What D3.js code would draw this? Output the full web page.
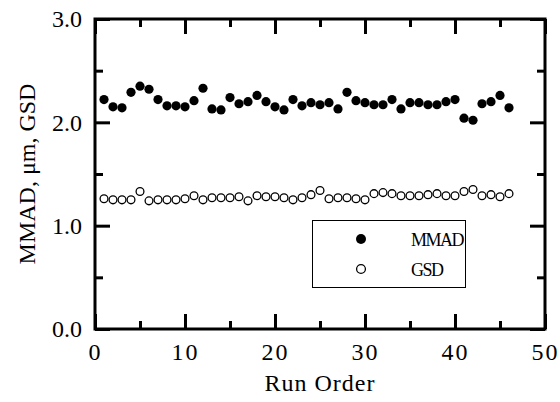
<!DOCTYPE html>
<html>
<head>
<script src="https://d3js.org/d3.v7.min.js"></script>
<style>
  body { margin: 0; background: #fff; }
  svg { display: block; }
  text { font-family: "Liberation Serif", "Times New Roman", serif; fill: #000; }
</style>
</head>
<body>
<script>
// run order 1..46
var runs = d3.range(1, 47);
var mmad = [2.22, 2.15, 2.14, 2.29, 2.35, 2.32, 2.22, 2.16, 2.16, 2.15,
            2.21, 2.33, 2.13, 2.12, 2.24, 2.18, 2.20, 2.26, 2.20, 2.15,
            2.12, 2.22, 2.16, 2.19, 2.17, 2.19, 2.13, 2.29, 2.21, 2.19,
            2.17, 2.17, 2.22, 2.13, 2.19, 2.19, 2.17, 2.17, 2.20, 2.22,
            2.04, 2.02, 2.18, 2.20, 2.26, 2.14];
var gsd = [1.26, 1.25, 1.25, 1.25, 1.33, 1.24, 1.25, 1.25, 1.25, 1.26,
           1.29, 1.25, 1.27, 1.27, 1.27, 1.28, 1.24, 1.29, 1.28, 1.28,
           1.27, 1.25, 1.27, 1.30, 1.34, 1.26, 1.27, 1.27, 1.26, 1.25,
           1.31, 1.32, 1.31, 1.29, 1.29, 1.29, 1.30, 1.31, 1.29, 1.29,
           1.33, 1.35, 1.29, 1.30, 1.28, 1.31];
var xMajor = [0, 10, 20, 30, 40, 50];
var xMinor = [5, 15, 25, 35, 45];
var yMajor = [0, 1, 2, 3];
var yMinor = [0.5, 1.5, 2.5];

var width = 560, height = 402;
// plot box edges (note: "top" is reserved on window)
var pL = 95, pR = 545, pT = 19, pB = 329;

var svg = d3.select("body").append("svg")
    .attr("width", width)
    .attr("height", height);

var x = d3.scaleLinear().domain([0, 50]).range([pL, pR]);
var y = d3.scaleLinear().domain([0, 3]).range([pB, pT]);

// ticks on all four sides, pointing inward
function drawTicks(axisFn, scale, vals, size, tx, ty, labels) {
    var g = svg.append("g")
        .attr("transform", "translate(" + tx + "," + ty + ")")
        .call(axisFn(scale).tickValues(vals).tickSize(size).tickSizeOuter(0)
            .tickFormat(labels ? labels : ""));
    g.select(".domain").remove();
    g.selectAll(".tick line").attr("stroke", "#000").attr("stroke-width", 3);
    return g;
}

var gx = drawTicks(d3.axisBottom, x, xMajor, -15, 0, pB, d3.format("d"));
gx.selectAll("text").attr("font-size", 24).attr("letter-spacing", 2)
    .attr("y", 31).attr("dy", 0);
drawTicks(d3.axisBottom, x, xMinor, -8, 0, pB);
drawTicks(d3.axisTop, x, xMajor, -15, 0, pT);
drawTicks(d3.axisTop, x, xMinor, -8, 0, pT);

var gy = drawTicks(d3.axisLeft, y, yMajor, -15, pL, 0, d3.format(".1f"));
gy.selectAll("text").attr("font-size", 24).attr("x", -13).attr("dy", "0.32em");
drawTicks(d3.axisLeft, y, yMinor, -8, pL, 0);
drawTicks(d3.axisRight, y, yMajor, -15, pR, 0);
drawTicks(d3.axisRight, y, yMinor, -8, pR, 0);

// frame
svg.append("rect")
    .attr("x", pL).attr("y", pT)
    .attr("width", pR - pL).attr("height", pB - pT)
    .attr("fill", "none").attr("stroke", "#000").attr("stroke-width", 3);

// axis titles
svg.append("text")
    .attr("x", (pL + pR) / 2).attr("y", 391)
    .attr("text-anchor", "middle")
    .attr("font-size", 24).attr("letter-spacing", 1)
    .text("Run Order");

svg.append("text")
    .attr("transform", "translate(35," + ((pT + pB) / 2) + ") rotate(-90)")
    .attr("text-anchor", "middle")
    .attr("font-size", 24)
    .text("MMAD, \u03bcm, GSD");

// data
svg.append("g").selectAll("circle")
    .data(runs)
    .enter().append("circle")
    .attr("cx", function(d) { return x(d); })
    .attr("cy", function(d, i) { return y(mmad[i]); })
    .attr("r", 4.6)
    .attr("fill", "#000");

svg.append("g").selectAll("circle")
    .data(runs)
    .enter().append("circle")
    .attr("cx", function(d) { return x(d); })
    .attr("cy", function(d, i) { return y(gsd[i]); })
    .attr("r", 3.9)
    .attr("fill", "#fff")
    .attr("stroke", "#000")
    .attr("stroke-width", 1.3);

// legend
var lg = svg.append("g");
lg.append("rect")
    .attr("x", 312.5).attr("y", 220.5).attr("width", 153).attr("height", 67)
    .attr("fill", "#fff").attr("stroke", "#000").attr("stroke-width", 1);
lg.append("circle").attr("cx", 361).attr("cy", 239).attr("r", 5).attr("fill", "#000");
lg.append("circle").attr("cx", 361).attr("cy", 269).attr("r", 4.4)
    .attr("fill", "#fff").attr("stroke", "#000").attr("stroke-width", 1.3);
lg.append("text").attr("x", 411).attr("y", 246).attr("font-size", 18)
    .attr("letter-spacing", -1.5).text("MMAD");
lg.append("text").attr("x", 411).attr("y", 276).attr("font-size", 18)
    .attr("letter-spacing", -1.5).text("GSD");
</script>
</body>
</html>
